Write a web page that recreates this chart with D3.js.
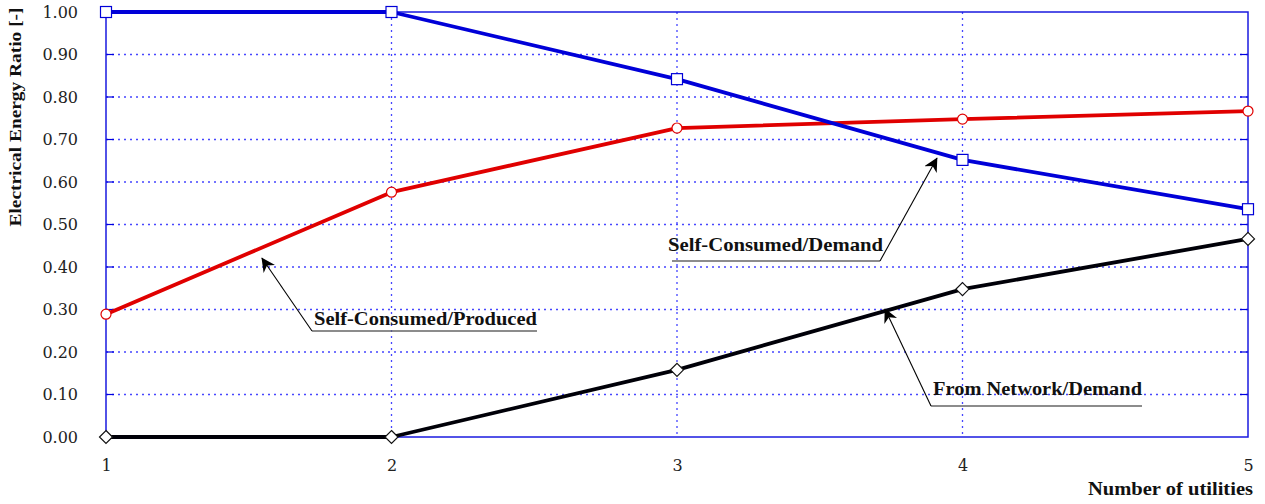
<!DOCTYPE html>
<html><head><meta charset="utf-8">
<script src="https://cdn.jsdelivr.net/npm/d3@7"></script>
<style>body{margin:0;background:#fff}svg{display:block}</style>
</head><body>
<svg id="c" width="1265" height="504"></svg>
<script>
const categories = [1, 2, 3, 4, 5];
const yTicks = [0, 0.1, 0.2, 0.3, 0.4, 0.5, 0.6, 0.7, 0.8, 0.9, 1.0];
const selfConsDemand = [1.00, 1.00, 0.842, 0.652, 0.536];
const selfConsProduced = [0.289, 0.576, 0.727, 0.748, 0.767];
const fromNetworkDemand = [0.000, 0.000, 0.158, 0.348, 0.466];
const seriesNames = ["Self-Consumed/Demand", "Self-Consumed/Produced", "From Network/Demand"];
const xTitle = "Number of utilities";
const yTitle = "Electrical Energy Ratio [-]";

const svg = d3.select("#c");
const tickFont = "'DejaVu Serif', 'Liberation Serif', serif";
const boldFont = "'Liberation Serif', 'DejaVu Serif', serif";
const L = 106, R = 1248, T = 12, B = 437;
const x = d3.scaleLinear().domain([1, 5]).range([L, R]);
const y = d3.scaleLinear().domain([0, 1]).range([B, T]);
const gridCol = "#4646ff";

// grid
const g = svg.append("g");
g.selectAll(".hg").data(yTicks.slice(1, -1)).join("line")
  .attr("x1", L).attr("x2", R).attr("y1", d => y(d)).attr("y2", d => y(d))
  .attr("stroke", gridCol).attr("stroke-width", 1.3).attr("stroke-dasharray", "2,4");
g.selectAll(".vg").data(categories.slice(1, -1)).join("line")
  .attr("y1", T).attr("y2", B).attr("x1", d => x(d)).attr("x2", d => x(d))
  .attr("stroke", gridCol).attr("stroke-width", 1.3).attr("stroke-dasharray", "2,4");

// axes
const yAxis = d3.axisLeft(y).tickValues(yTicks).tickFormat(d3.format(".2f")).tickSize(0).tickPadding(28);
const ya = svg.append("g").attr("transform", `translate(${L},0)`).call(yAxis);
ya.select(".domain").remove();
ya.selectAll("text").attr("font-family", tickFont).attr("font-size", 16).attr("fill", "#222");

const xAxis = d3.axisBottom(x).tickValues(categories).tickFormat(d3.format("d")).tickSize(0).tickPadding(23);
const xa = svg.append("g").attr("transform", `translate(0,${B})`).call(xAxis);
xa.select(".domain").remove();
xa.selectAll("text").attr("font-family", tickFont).attr("font-size", 16).attr("fill", "#222");

// inner ticks
svg.append("g").selectAll("line").data(yTicks.slice(1, -1)).join("line")
  .attr("x1", L).attr("x2", L + 8).attr("y1", d => y(d)).attr("y2", d => y(d))
  .attr("stroke", "#0000e0").attr("stroke-width", 1.2);
svg.append("g").selectAll("line").data(yTicks.slice(1, -1)).join("line")
  .attr("x1", R - 8).attr("x2", R).attr("y1", d => y(d)).attr("y2", d => y(d))
  .attr("stroke", "#0000e0").attr("stroke-width", 1.2);

// frame
svg.append("rect").attr("x", L).attr("y", T).attr("width", R - L).attr("height", B - T)
  .attr("fill", "none").attr("stroke", "#1a1ae0").attr("stroke-width", 1.5);

// titles
svg.append("text").attr("transform", `translate(21,117) rotate(-90)`)
  .attr("text-anchor", "middle").attr("font-family", boldFont).attr("font-weight", "bold")
  .attr("font-size", 16.5).attr("fill", "#111")
  .attr("textLength", 219).attr("lengthAdjust", "spacingAndGlyphs").text(yTitle);
svg.append("text").attr("x", 1253).attr("y", 495).attr("text-anchor", "end")
  .attr("font-family", boldFont).attr("font-weight", "bold").attr("font-size", 18.5).attr("fill", "#111")
  .attr("textLength", 165).attr("lengthAdjust", "spacingAndGlyphs").text(xTitle);

// series
const series = [
  {name: seriesNames[0], vals: selfConsDemand, color: "#0000d8", marker: "square"},
  {name: seriesNames[1], vals: selfConsProduced, color: "#e00000", marker: "circle"},
  {name: seriesNames[2], vals: fromNetworkDemand, color: "#000008", marker: "diamond"}
];
const line = d3.line().x((d, i) => x(categories[i])).y(d => y(d));
[2, 1, 0].forEach(k => {
  const s = series[k];
  svg.append("path").datum(s.vals).attr("d", line).attr("fill", "none")
    .attr("stroke", s.color).attr("stroke-width", 3.8).attr("stroke-linejoin", "round");
});
[2, 1, 0].forEach(k => {
  const s = series[k];
  const gm = svg.append("g");
  s.vals.forEach((v, i) => {
    const cx = x(categories[i]), cy = y(v);
    if (s.marker === "square") {
      gm.append("rect").attr("x", cx - 5.5).attr("y", cy - 5.5).attr("width", 11).attr("height", 11)
        .attr("fill", "#fff").attr("stroke", s.color).attr("stroke-width", 1.2);
    } else if (s.marker === "circle") {
      gm.append("circle").attr("cx", cx).attr("cy", cy).attr("r", 5)
        .attr("fill", "#fff").attr("stroke", s.color).attr("stroke-width", 1.2);
    } else {
      gm.append("path").attr("d", `M${cx},${cy - 6.5}L${cx + 6.5},${cy}L${cx},${cy + 6.5}L${cx - 6.5},${cy}Z`)
        .attr("fill", "#fff").attr("stroke", "#111").attr("stroke-width", 1.2);
    }
  });
});

// annotations (anchored in data coordinates)
const annos = [
  {text: seriesNames[1], tip: [1.546, 0.4212], elbow: [1.7215, 0.2494], end: [2.5096, 0.2494], tx: 1.7285, ty: 0.2635, w: 223},
  {text: seriesNames[0], tip: [3.9107, 0.6565], elbow: [3.711, 0.4141], end: [2.9825, 0.4141], tx: 2.9685, ty: 0.4376, w: 215},
  {text: seriesNames[2], tip: [3.7285, 0.3012], elbow: [3.8897, 0.0729], end: [4.6287, 0.0729], tx: 3.8967, ty: 0.0988, w: 209}
];
svg.append("defs").append("marker").attr("id", "ah").attr("viewBox", "0 0 10 10")
  .attr("refX", 9.5).attr("refY", 5).attr("markerWidth", 14).attr("markerHeight", 14)
  .attr("markerUnits", "userSpaceOnUse").attr("orient", "auto")
  .append("path").attr("d", "M0,0L10,5L0,10L3,5Z").attr("fill", "#000");
annos.forEach(a => {
  svg.append("line").attr("x1", x(a.elbow[0])).attr("y1", y(a.elbow[1]))
    .attr("x2", x(a.end[0])).attr("y2", y(a.end[1])).attr("stroke", "#666").attr("stroke-width", 1.6);
  svg.append("line").attr("x1", x(a.elbow[0])).attr("y1", y(a.elbow[1]))
    .attr("x2", x(a.tip[0])).attr("y2", y(a.tip[1])).attr("stroke", "#000").attr("stroke-width", 1.1)
    .attr("marker-end", "url(#ah)");
  svg.append("text").attr("x", x(a.tx)).attr("y", y(a.ty)).attr("font-family", boldFont)
    .attr("font-weight", "bold").attr("font-size", 19).attr("fill", "#111")
    .attr("textLength", a.w).attr("lengthAdjust", "spacingAndGlyphs").text(a.text);
});
</script>
</body></html>
